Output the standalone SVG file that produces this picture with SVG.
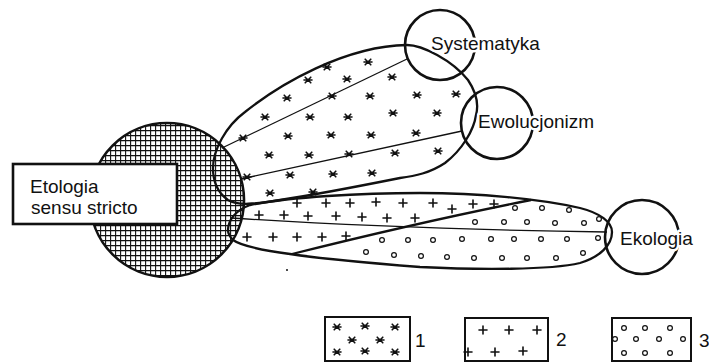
<svg xmlns="http://www.w3.org/2000/svg" xmlns:xlink="http://www.w3.org/1999/xlink" width="709" height="363" viewBox="0 0 709 363">
  <style>
    .lbl { font-family: "Liberation Sans", Arial, sans-serif; font-size: 19px; fill: #111; }
    .halo { stroke: #fff; stroke-width: 5; paint-order: stroke; stroke-linejoin: round; }
    .outline { fill: none; stroke: #111; stroke-width: 2.3; stroke-linejoin: round; }
    .ring { fill: none; stroke: #111; stroke-width: 2.6; }
    .thin { fill: none; stroke: #111; stroke-width: 1.3; }
    .mark { fill: none; stroke: #111; stroke-width: 1.6; stroke-linecap: round; }
    .dot { fill: #fff; stroke: #111; stroke-width: 1.2; }
    .key { fill: #fff; stroke: #111; stroke-width: 2; }
  </style>
  <defs>
    <pattern id="grid" width="5" height="5" patternUnits="userSpaceOnUse">
      <rect width="5" height="5" fill="#fff"/>
      <path d="M0,0.6H5M0.6,0V5" stroke="#111" stroke-width="1.1"/>
    </pattern>
    <path id="ast" class="mark" d="M-4,0H4M-2.8,-2.8L2.8,2.8M-2.8,2.8L2.8,-2.8"/>
    <path id="plus" class="mark" d="M-4,0H4M0,-4V4"/>
    <circle id="ring" class="dot" r="2.4"/>
  </defs>

  <!-- core: ethology sensu stricto -->
  <g id="etologia">
    <circle cx="167" cy="200" r="77" fill="url(#grid)" stroke="#111" stroke-width="2.6"/>
    <rect x="13" y="164" width="164" height="60" fill="#fff" stroke="#111" stroke-width="2.6"/>
    <text class="lbl" x="30" y="193">Etologia</text>
    <text class="lbl" x="31" y="214">sensu stricto</text>
  </g>

  <!-- overlap areas and their links -->
  <g id="connectors">
    <!-- upper lobe (1) -->
    <path class="outline" d="M213,168 C213,150 226,126 245,112 C280,84 345,46 407,45 C422,45 452,60 468,80 C476,92 479,104 476,115 C474,130 462,150 445,163 C430,173 415,176 400,178 C370,184 320,194 280,200 C255,204 238,206 228,200 C218,193 213,182 213,168 Z"/>
    <line class="thin" x1="222" y1="148" x2="407" y2="59"/>
    <line class="thin" x1="241" y1="179" x2="462" y2="131"/>
    <!-- lower lobe (2, 3) -->
    <path class="outline" d="M228,230 C228,220 236,210 250,205 C290,197 360,193 420,193 C480,193 540,199 580,208 C600,213 612,222 612,232 C612,245 600,257 580,263 C550,270 480,270 420,267 C370,263 310,257 290,254 C260,250 240,245 233,240 C230,237 228,234 228,230 Z"/>
    <path class="outline" d="M292,254 Q420,222 531,200"/>
    <path class="thin" d="M231,218 Q400,229 607,232"/>
  </g>

  <!-- fill marks: 1 -->
  <g id="fill-1">
    <use xlink:href="#ast" x="327" y="67"/><use xlink:href="#ast" x="368" y="62"/>
    <use xlink:href="#ast" x="308" y="80"/><use xlink:href="#ast" x="347" y="79"/><use xlink:href="#ast" x="392" y="77"/>
    <use xlink:href="#ast" x="287" y="98"/><use xlink:href="#ast" x="332" y="96"/><use xlink:href="#ast" x="370" y="96"/><use xlink:href="#ast" x="417" y="95"/><use xlink:href="#ast" x="456" y="94"/>
    <use xlink:href="#ast" x="265" y="117"/><use xlink:href="#ast" x="310" y="117"/><use xlink:href="#ast" x="348" y="117"/><use xlink:href="#ast" x="393" y="113"/><use xlink:href="#ast" x="437" y="113"/>
    <use xlink:href="#ast" x="243" y="138"/><use xlink:href="#ast" x="288" y="136"/><use xlink:href="#ast" x="331" y="135"/><use xlink:href="#ast" x="371" y="135"/><use xlink:href="#ast" x="416" y="133"/>
    <use xlink:href="#ast" x="269" y="155"/><use xlink:href="#ast" x="309" y="155"/><use xlink:href="#ast" x="349" y="154"/><use xlink:href="#ast" x="395" y="153"/><use xlink:href="#ast" x="438" y="151"/>
    <use xlink:href="#ast" x="247" y="177"/><use xlink:href="#ast" x="290" y="175"/><use xlink:href="#ast" x="333" y="174"/><use xlink:href="#ast" x="372" y="173"/>
    <use xlink:href="#ast" x="270" y="193"/><use xlink:href="#ast" x="313" y="192"/>
  </g>

  <!-- fill marks: 2 -->
  <g id="fill-2">
    <use xlink:href="#plus" x="297" y="203"/><use xlink:href="#plus" x="326" y="203"/><use xlink:href="#plus" x="350" y="203"/><use xlink:href="#plus" x="376" y="202"/><use xlink:href="#plus" x="403" y="203"/><use xlink:href="#plus" x="433" y="203"/><use xlink:href="#plus" x="452" y="209"/><use xlink:href="#plus" x="473" y="204"/><use xlink:href="#plus" x="494" y="204"/>
    <use xlink:href="#plus" x="259" y="215"/><use xlink:href="#plus" x="284" y="215"/><use xlink:href="#plus" x="308" y="216"/><use xlink:href="#plus" x="336" y="216"/><use xlink:href="#plus" x="362" y="217"/><use xlink:href="#plus" x="387" y="218"/><use xlink:href="#plus" x="415" y="218"/>
    <use xlink:href="#plus" x="247" y="237"/><use xlink:href="#plus" x="273" y="237"/><use xlink:href="#plus" x="297" y="237"/><use xlink:href="#plus" x="322" y="237"/><use xlink:href="#plus" x="346" y="236"/>
  </g>

  <!-- fill marks: 3 -->
  <g id="fill-3">
    <use xlink:href="#ring" x="515" y="208"/><use xlink:href="#ring" x="542" y="208"/><use xlink:href="#ring" x="569" y="210"/><use xlink:href="#ring" x="599" y="219"/>
    <use xlink:href="#ring" x="475" y="222"/><use xlink:href="#ring" x="504" y="222"/><use xlink:href="#ring" x="527" y="222"/><use xlink:href="#ring" x="555" y="223"/><use xlink:href="#ring" x="584" y="223"/>
    <use xlink:href="#ring" x="382" y="240"/><use xlink:href="#ring" x="408" y="240"/><use xlink:href="#ring" x="433" y="240"/><use xlink:href="#ring" x="462" y="239"/><use xlink:href="#ring" x="491" y="239"/><use xlink:href="#ring" x="514" y="239"/><use xlink:href="#ring" x="541" y="239"/><use xlink:href="#ring" x="567" y="239"/><use xlink:href="#ring" x="598" y="238"/>
    <use xlink:href="#ring" x="366" y="252"/><use xlink:href="#ring" x="394" y="255"/><use xlink:href="#ring" x="421" y="256"/><use xlink:href="#ring" x="447" y="257"/><use xlink:href="#ring" x="474" y="258"/><use xlink:href="#ring" x="502" y="258"/><use xlink:href="#ring" x="527" y="258"/><use xlink:href="#ring" x="556" y="258"/><use xlink:href="#ring" x="583" y="253"/>
  </g>
  <circle cx="287" cy="270" r="1" fill="#111"/>

  <!-- neighbouring disciplines -->
  <g id="systematyka">
    <circle class="ring" cx="440" cy="45" r="35"/>
    <text class="lbl halo" x="431" y="50">Systematyka</text>
  </g>
  <g id="ewolucjonizm">
    <circle class="ring" cx="497" cy="123" r="36"/>
    <text class="lbl halo" x="478" y="128">Ewolucjonizm</text>
  </g>
  <g id="ekologia">
    <circle class="ring" cx="642" cy="237" r="37"/>
    <text class="lbl halo" x="620" y="245">Ekologia</text>
  </g>

  <!-- key -->
  <g id="key-1">
    <rect class="key" x="325" y="317" width="85" height="44"/>
    <use xlink:href="#ast" x="337" y="327"/><use xlink:href="#ast" x="365" y="326"/><use xlink:href="#ast" x="395" y="327"/>
    <use xlink:href="#ast" x="352" y="340"/><use xlink:href="#ast" x="380" y="340"/>
    <use xlink:href="#ast" x="337" y="352"/><use xlink:href="#ast" x="365" y="351"/><use xlink:href="#ast" x="395" y="352"/>
    <text class="lbl" x="415" y="347">1</text>
  </g>
  <g id="key-2">
    <rect class="key" x="465" y="318" width="83" height="43"/>
    <use xlink:href="#plus" x="483" y="330"/><use xlink:href="#plus" x="509" y="330"/><use xlink:href="#plus" x="537" y="330"/>
    <use xlink:href="#plus" x="468" y="352"/><use xlink:href="#plus" x="495" y="352"/><use xlink:href="#plus" x="523" y="351"/>
    <text class="lbl" x="556" y="346">2</text>
  </g>
  <g id="key-3">
    <rect class="key" x="612" y="318" width="79" height="43"/>
    <use xlink:href="#ring" x="624" y="328"/><use xlink:href="#ring" x="645" y="328"/><use xlink:href="#ring" x="670" y="328"/>
    <use xlink:href="#ring" x="615" y="339"/><use xlink:href="#ring" x="636" y="339"/><use xlink:href="#ring" x="659" y="339"/><use xlink:href="#ring" x="683" y="339"/>
    <use xlink:href="#ring" x="624" y="353"/><use xlink:href="#ring" x="645" y="353"/><use xlink:href="#ring" x="670" y="353"/>
    <text class="lbl" x="699" y="347">3</text>
  </g>
</svg>
